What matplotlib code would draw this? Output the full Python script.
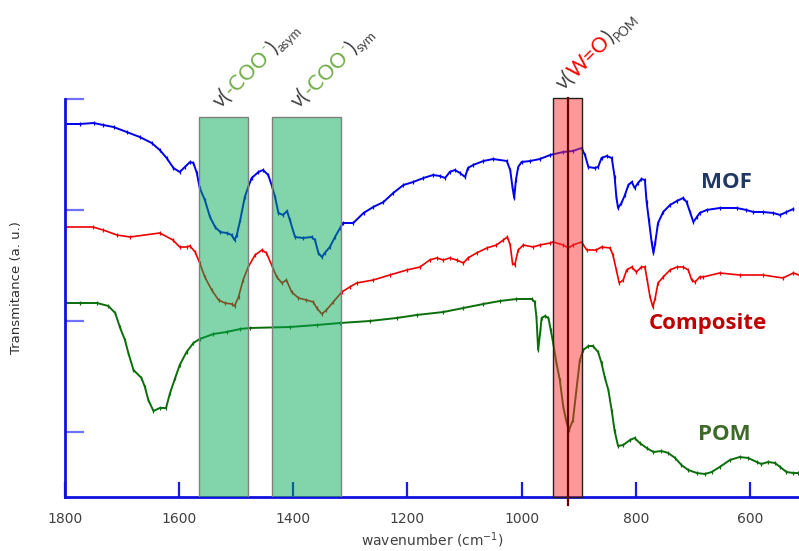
import matplotlib
matplotlib.use("Agg")
import matplotlib.pyplot as plt
import matplotlib.transforms as mtransforms
from matplotlib.patches import Rectangle
import numpy as np

# ---------------- data ----------------
mof_wn = [1800, 1774, 1750, 1733, 1715, 1692, 1669, 1648, 1634, 1622, 1610, 1599, 1590, 1581, 1575,
          1569, 1564, 1555, 1546, 1537, 1528, 1517, 1508, 1503, 1499, 1493, 1485, 1479, 1473, 1461,
          1453, 1444, 1438, 1432, 1426, 1418, 1411, 1406, 1397, 1383, 1368, 1362, 1356, 1350, 1345,
          1336, 1327, 1318, 1313, 1295, 1277, 1260, 1242, 1225, 1207, 1190, 1172, 1155, 1143, 1134,
          1126, 1117, 1108, 1099, 1094, 1085, 1067, 1050, 1026, 1020, 1016, 1013, 1010, 1006, 1000,
          985, 968, 950, 927, 910, 895, 889, 883, 872, 866, 860, 851, 842, 837, 834, 831, 825, 819,
          813, 807, 802, 796, 790, 784, 781, 777, 772, 769, 766, 761, 752, 740, 728, 717, 711, 705,
          699, 693, 688, 676, 653, 623, 606, 594, 577, 559, 547, 536, 524]
mof_t = [373, 373, 374, 372, 370, 365, 360, 354, 347, 339, 329, 325, 330, 335, 334,
         324, 309, 297, 280, 270, 265, 264, 262, 257, 262, 277, 300, 310, 319, 325,
         327, 322, 312, 300, 284, 282, 286, 277, 260, 259, 260, 257, 244, 240, 244,
         250, 260, 269, 274, 274, 284, 290, 295, 304, 312, 315, 319, 322, 321, 319,
         325, 327, 324, 320, 329, 332, 336, 338, 336, 327, 310, 299, 317, 330, 335,
         336, 338, 342, 345, 346, 349, 342, 330, 329, 330, 339, 341, 339, 320, 300, 289, 294, 302,
         312, 315, 309, 314, 318, 317, 295, 277, 254, 244, 254, 274, 285, 292, 296, 299, 295, 285,
         275, 280, 284, 287, 289, 289, 287, 285, 285, 284, 282, 285, 288]

comp_wn = [1800, 1751, 1733, 1709, 1686, 1634, 1611, 1599, 1587, 1581, 1572, 1564, 1555, 1543, 1531,
           1520, 1508, 1503, 1496, 1488, 1479, 1467, 1455, 1447, 1438, 1429, 1420, 1412, 1403, 1391,
           1377, 1365, 1359, 1350, 1342, 1330, 1315, 1301, 1289, 1260, 1231, 1201, 1178, 1161, 1149,
           1137, 1126, 1114, 1102, 1094, 1079, 1061, 1044, 1032, 1025, 1020, 1016, 1012, 1006, 997,
           980, 968, 950, 945, 927, 918, 910, 895, 886, 869, 860, 845, 840, 834, 829, 822, 816, 807,
           799, 790, 784, 780, 775, 770, 766, 761, 752, 740, 728, 717, 708, 702, 696, 688, 682, 653,
           618, 577, 542, 524, 514]
comp_t = [270, 270, 267, 262, 260, 264, 257, 250, 250, 251, 245, 234, 220, 207, 197,
          194, 193, 191, 200, 217, 230, 242, 247, 244, 232, 220, 214, 217, 205, 199,
          197, 195, 189, 183, 187, 195, 205, 210, 214, 217, 222, 227, 230, 237, 239,
          237, 239, 237, 234, 239, 244, 249, 252, 257, 260, 252, 234, 232, 247, 252,
          250, 252, 254, 255, 252, 249, 252, 255, 247, 247, 250, 249, 242, 227, 214, 217, 227, 230,
          225, 230, 230, 217, 200, 190, 199, 214, 220, 227, 230, 230, 227, 217, 215, 220, 220, 224,
          222, 222, 219, 224, 222]

pom_wn = [1800, 1774, 1744, 1724, 1712, 1704, 1695, 1689, 1680, 1666, 1660, 1654, 1645, 1634, 1623,
          1616, 1607, 1599, 1587, 1575, 1564, 1540, 1517, 1493, 1476, 1406, 1359, 1318, 1266, 1219,
          1184, 1137, 1102, 1067, 1038, 1009, 982, 977, 974, 971, 967, 965, 959, 953, 949, 945, 939,
          933, 927, 921, 917, 910, 904, 898, 892, 883, 875, 866, 860, 854, 848, 842, 837, 831, 822,
          810, 802, 793, 781, 769, 755, 743, 731, 720, 708, 693, 679, 667, 653, 635, 618, 603, 588,
          580, 568, 556, 547, 536, 524, 515]
pom_t = [194, 194, 194, 191, 184, 170, 157, 144, 127, 119, 110, 97, 86, 89, 89,
         104, 119, 132, 145, 154, 158, 163, 165, 168, 169, 170, 172, 174, 176, 179,
         182, 185, 189, 193, 196, 198, 198, 195, 180, 147, 167, 179, 181, 179, 167, 155, 134,
         117, 90, 74, 67, 77, 107, 137, 147, 151, 151, 145, 134, 119, 107, 86, 66, 51, 52,
         57, 59, 54, 49, 45, 46, 44, 39, 32, 27, 24, 23, 25, 30, 37, 40, 39, 35,
         33, 35, 34, 30, 25, 24, 24]

x_ticks = [1800, 1600, 1400, 1200, 1000, 800, 600]
y_ticks = [65, 176, 287, 398]

coo_asym_band = (1479, 1565)
coo_sym_band = (1317, 1438)
wo_band = (895, 945)
wo_line = 919

# ---------------- figure ----------------
fig = plt.figure(figsize=(7.99, 5.51), dpi=100)
ax = fig.add_axes([65 / 799, 1 - 497 / 551, 734 / 799, 398 / 551])

mk = dict(marker="|", markersize=3, markeredgewidth=0.9)
ax.plot(mof_wn, mof_t, color="#0000ee", lw=1.4, zorder=2, **mk)
ax.plot(comp_wn, comp_t, color="#ee0000", lw=1.2, zorder=2, **mk)
ax.plot(pom_wn, pom_t, color="#0b6e0b", lw=1.4, zorder=2, **mk)

ax.set_xlim(1800, 514)
ax.set_ylim(0, 398)
ax.set_xticks(x_ticks)
ax.set_yticks(y_ticks)
ax.tick_params(axis="y", direction="in", length=14, width=1.6, color="#7070ff", labelleft=False)
ax.tick_params(axis="x", direction="in", length=11, width=1.6, color="#1a1ae6",
               labelsize=10, labelcolor="#404040", pad=11)
for s in ("top", "right"):
    ax.spines[s].set_visible(False)
for s in ("left", "bottom"):
    ax.spines[s].set_color("#1010e0")
    ax.spines[s].set_linewidth(2)

ax.set_xlabel("wavenumber (cm$^{-1}$)", fontsize=10, color="#404040", labelpad=3)
ax.set_ylabel("Transmitance (a. u.)", fontsize=9.5, color="#303030")
ax.yaxis.set_label_coords(-0.057, 0.525)

# bands
for lo, hi in (coo_asym_band, coo_sym_band):
    ax.add_patch(Rectangle((lo, 0), hi - lo, 380, facecolor="#00aa52", alpha=0.49,
                           edgecolor="none", zorder=3))
    ax.add_patch(Rectangle((lo, 0), hi - lo, 380, fill=False, edgecolor="#808080",
                           lw=1, zorder=3.1))
ax.add_patch(Rectangle((wo_band[0], 0), wo_band[1] - wo_band[0], 399, facecolor="#ff2d2d",
                       alpha=0.49, edgecolor="none", zorder=3, clip_on=False))
ax.add_patch(Rectangle((wo_band[0], 0), wo_band[1] - wo_band[0], 399, fill=False,
                       edgecolor="#202020", lw=1, zorder=3.1, clip_on=False))
ax.plot([wo_line, wo_line], [-8, 399], color="#6a0000", lw=1.6, zorder=3.2, clip_on=False)

# series labels
lab_fam = ["Open Sans", "DejaVu Sans"]
ax.text(641, 314, "MOF", color="#1f3864", fontsize=16, fontweight="bold",
        family=lab_fam, ha="center", va="center")
ax.text(674, 174, "Composite", color="#c00000", fontsize=16, fontweight="bold",
        family=lab_fam, ha="center", va="center")
ax.text(645, 62, "POM", color="#3d6b27", fontsize=16, fontweight="bold",
        family=lab_fam, ha="center", va="center")

# rotated multi-colour labels
GRAY = "#404040"
GREEN = "#70ad47"
RED = "#ff0000"
rich_fam = ["Lato", "Open Sans", "DejaVu Sans"]


def rich(x, y, pieces, size=15, angle=45):
    r = fig.canvas.get_renderer()
    x0, y0 = ax.transData.transform((x, y))
    c, s = np.cos(np.radians(angle)), np.sin(np.radians(angle))
    adv = 0.0
    for txt, col, kind in pieces:
        fs = size * 0.62 if kind else size
        shift = {"sup": 0.42, "sub": -0.2}.get(kind, 0.0) * size * fig.dpi / 72
        t = fig.text(0, 0, txt, fontsize=fs, color=col, family=rich_fam,
                     transform=mtransforms.IdentityTransform(), ha="left", va="baseline")
        w = t.get_window_extent(r).width
        t.set_position((x0 + adv * c - shift * s, y0 + adv * s + shift * c))
        t.set_rotation(angle)
        t.set_rotation_mode("anchor")
        adv += w + 0.5


rich(1528, 388, [("ν(", GRAY, None), ("-COO", GREEN, None), ("-", GREEN, "sup"),
                 (")", GRAY, None), ("asym", GRAY, "sub")])
rich(1390, 388, [("ν(", GRAY, None), ("-COO", GREEN, None), ("-", GREEN, "sup"),
                 (")", GRAY, None), ("sym", GRAY, "sub")])
rich(927, 406, [("ν(", GRAY, None), ("W=O", RED, None), (")", GRAY, None),
                ("POM", GRAY, "sub")])

fig.savefig("out.png", dpi=100)
